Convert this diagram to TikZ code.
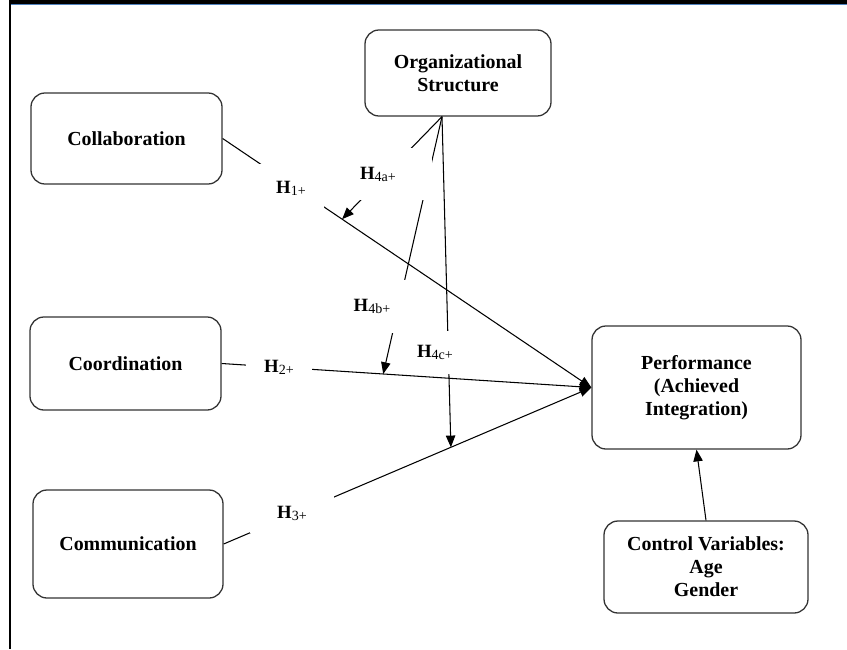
\documentclass[tikz,border=0pt]{standalone}
\usepackage{fontspec}
\setmainfont{Liberation Serif}
\usetikzlibrary{arrows.meta,calc}

\definecolor{barblue}{RGB}{79,129,189}
\newcommand{\hsub}[1]{{\fontsize{12}{12}\selectfont\mdseries\raisebox{-1.6pt}{#1}}}

\begin{document}
\begin{tikzpicture}[x=0.03cm, y=-0.03cm,
  box/.style={draw=black!80, line width=1.1pt, rounded corners=0.42cm, align=center,
              font=\fontsize{17}{19.6}\selectfont\bfseries, inner sep=0pt},
  hyp/.style={fill=white, inner sep=1pt, font=\fontsize{16}{18}\selectfont\bfseries},
  link/.style={line width=0.9pt, -{Triangle[length=10pt,width=8pt]}},
]
\useasboundingbox (0,0) rectangle (847,649);

% window frame
\fill[black] (10,0) rectangle (847,3.6);
\draw[barblue, line width=1.1pt] (10,4.6) -- (847,4.6);
\draw[line width=0.9pt] (10,0) -- (10,649);

% constructs
\node[box, minimum width=5.73cm, minimum height=2.73cm] (collab) at (126.5,138.5) {Collaboration};
\node[box, minimum width=5.73cm, minimum height=2.79cm] (coord)  at (125.5,363.5) {Coordination};
\node[box, minimum width=5.70cm, minimum height=3.24cm] (comm)   at (128,544)     {Communication};
\node[box, minimum width=5.58cm, minimum height=2.58cm] (org)    at (458,73)      {Organizational\\ Structure};
\node[box, minimum width=6.27cm, minimum height=3.69cm] (perf)   at (696.5,387.5) {Performance\\ (Achieved\\ Integration)};
\node[box, minimum width=6.12cm, minimum height=2.76cm] (ctrl)   at (706,567)     {Control Variables:\\ Age\\ Gender};

% direct effects
\draw[link] (collab.east) -- (perf.west);
\draw[link] (coord.east) -- (perf.west);
\draw[link] (comm.east) -- (perf.west);
\draw[link] (ctrl.north) -- (perf.south);

% moderation
\coordinate (foot) at ([xshift=-0.48cm]org.south);
\coordinate (m4a) at ($(collab.east)!0.324!(perf.west)$);
\coordinate (m4b) at ($(coord.east)!0.437!(perf.west)$);
\coordinate (m4c) at ($(comm.east)!0.618!(perf.west)$);
\draw[link] (foot) -- (m4a);
\draw[link] (foot) -- (m4b);
\draw[link] (foot) -- (m4c);

% hypothesis labels
\node[hyp, minimum width=1.98cm, minimum height=1.44cm] (h1)  at (291,188)   {H\hsub{1+}};
\node[hyp, minimum width=1.98cm, minimum height=0.78cm] (h2)  at (279,367)   {H\hsub{2+}};
\node[hyp, minimum width=2.52cm, minimum height=1.20cm] (h3)  at (292,513)   {H\hsub{3+}};
\node[hyp, minimum width=3.24cm, minimum height=1.56cm] (h4a) at (378,174)   {H\hsub{4a+}};
\node[hyp, minimum width=2.13cm, minimum height=1.59cm] (h4b) at (372,306)   {H\hsub{4b+}};
\node[hyp, minimum width=1.20cm, minimum height=1.29cm] (h4c) at (435,352.5) {H\hsub{4c+}};
\end{tikzpicture}
\end{document}
